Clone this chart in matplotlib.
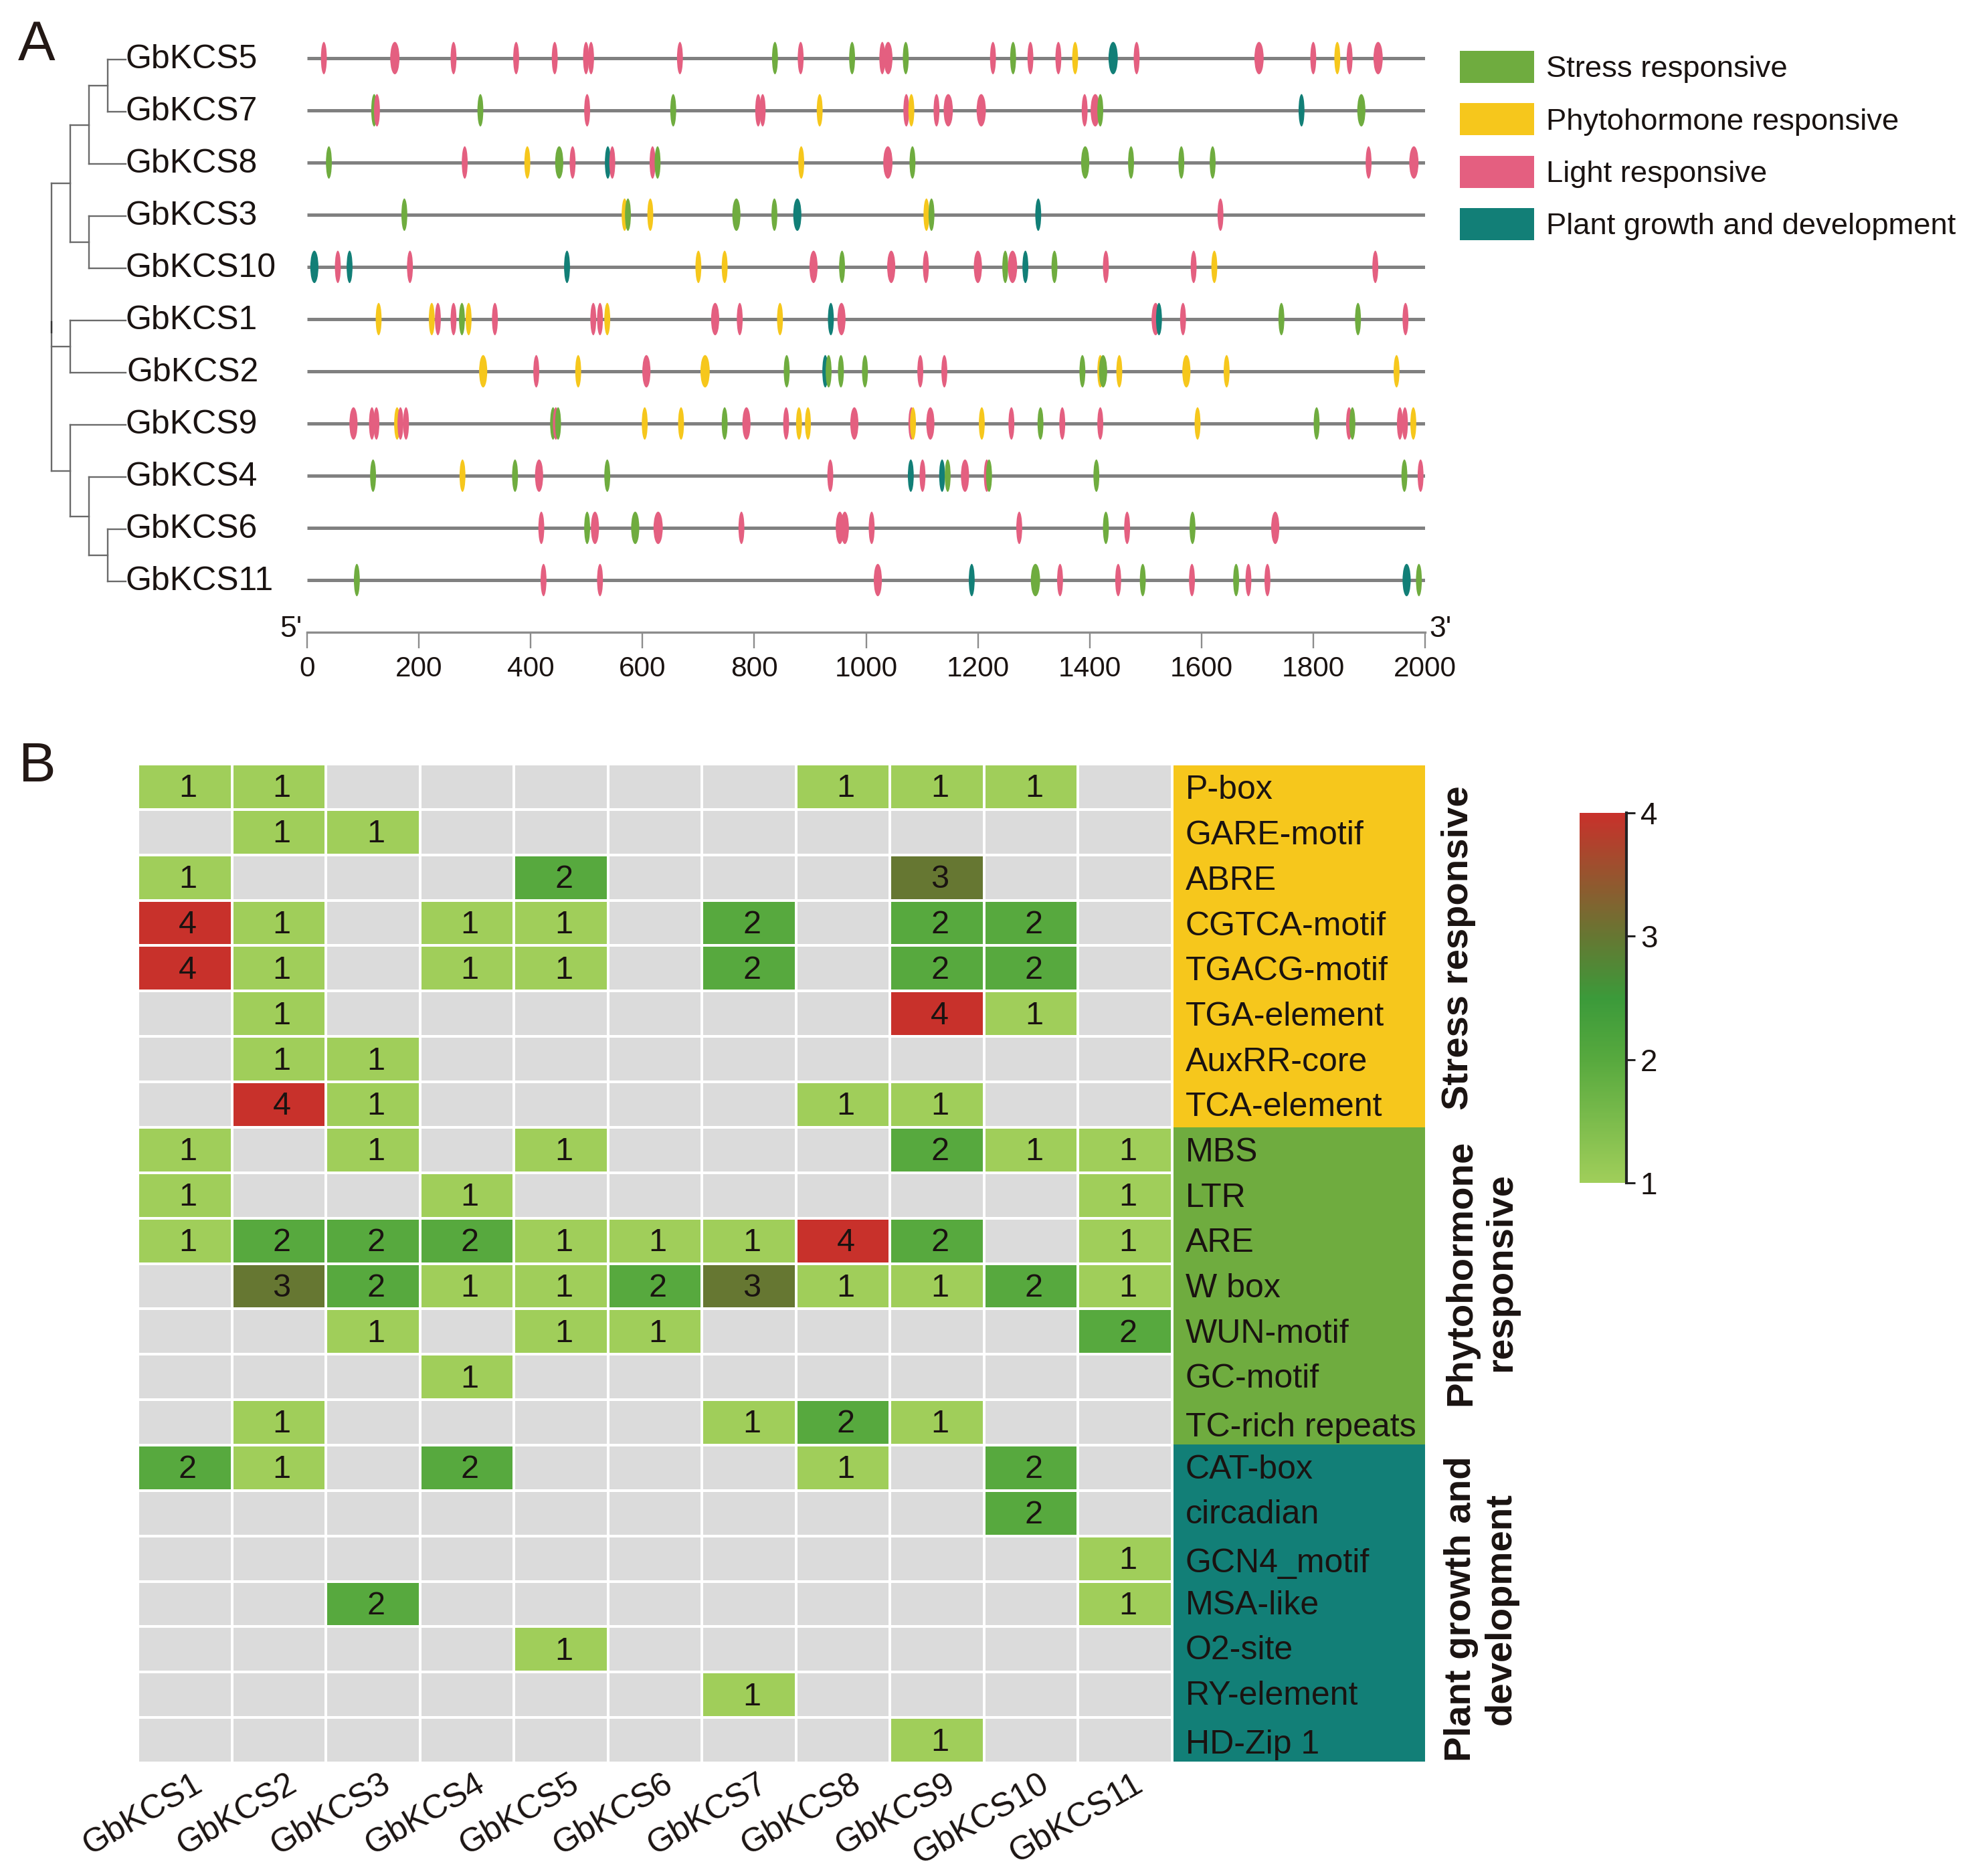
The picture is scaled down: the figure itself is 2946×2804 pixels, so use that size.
# -*- coding: utf-8 -*-
"""
GbKCS promoter cis-elements: position map (A) and count heatmap (B)
"""
import numpy as np
import matplotlib
matplotlib.use("Agg")
import matplotlib.pyplot as plt
from matplotlib.colors import LinearSegmentedColormap, Normalize
from matplotlib.patches import Ellipse, Patch
from matplotlib.cm import ScalarMappable
from matplotlib.transforms import ScaledTranslation

plt.rcParams["font.family"] = ["Liberation Sans", "DejaVu Sans"]

W, H = 2946, 2804
TXT = "#1a1311"

# panel A, top to bottom
gene_order = ["GbKCS5", "GbKCS7", "GbKCS8", "GbKCS3", "GbKCS10", "GbKCS1",
              "GbKCS2", "GbKCS9", "GbKCS4", "GbKCS6", "GbKCS11"]
tree = [[[["GbKCS5", "GbKCS7"], "GbKCS8"], ["GbKCS3", "GbKCS10"]],
        ["GbKCS1", "GbKCS2"],
        ["GbKCS9", ["GbKCS4", ["GbKCS6", "GbKCS11"]]]]
axis_ticks = [0, 200, 400, 600, 800, 1000, 1200, 1400, 1600, 1800, 2000]

# positions in bp; wide blobs are two sites next to each other
stress_sites = {
    "GbKCS5": [837, 975, 1071, 1263],
    "GbKCS7": [120, 310, 655, 1419, 1884, 1888],
    "GbKCS8": [39, 449, 453, 627, 1083, 1390, 1394, 1474, 1564, 1620],
    "GbKCS3": [174, 574, 766, 770, 836, 1117],
    "GbKCS10": [957, 1249, 1337],
    "GbKCS1": [277, 1743, 1880],
    "GbKCS2": [858, 933, 955, 998, 1387, 1422, 1426],
    "GbKCS9": [440, 449, 747, 1312, 1806, 1870],
    "GbKCS4": [118, 372, 537, 1146, 1220, 1412, 1963],
    "GbKCS6": [501, 585, 589, 1429, 1584],
    "GbKCS11": [89, 1300, 1306, 1495, 1662, 1989],
}
hormone_sites = {
    "GbKCS5": [1374, 1843],
    "GbKCS7": [917, 1081],
    "GbKCS8": [394, 884],
    "GbKCS3": [568, 614, 1108],
    "GbKCS10": [700, 747, 1623],
    "GbKCS1": [128, 223, 289, 537, 846],
    "GbKCS2": [313, 317, 485, 709, 715, 1419, 1453, 1571, 1575, 1645, 1949],
    "GbKCS9": [161, 604, 669, 880, 896, 1084, 1207, 1593, 1979],
    "GbKCS4": [278],
    "GbKCS6": [],
    "GbKCS11": [],
}
light_sites = {
    "GbKCS5": [30, 154, 160, 262, 374, 443, 499, 508, 667, 883, 1029, 1037, 1042,
               1227, 1294, 1344, 1484, 1700, 1706, 1800, 1865, 1913, 1919],
    "GbKCS7": [125, 501, 807, 815, 1072, 1126, 1144, 1150, 1203, 1209, 1391, 1407, 1413],
    "GbKCS8": [282, 475, 546, 618, 1036, 1042, 1899, 1977, 1983],
    "GbKCS3": [1634],
    "GbKCS10": [55, 184, 904, 908, 1043, 1047, 1107, 1198, 1202, 1259, 1265, 1429, 1586, 1911],
    "GbKCS1": [234, 262, 336, 512, 524, 728, 732, 774, 954, 958, 1516, 1520, 1567, 1965],
    "GbKCS2": [410, 605, 609, 1097, 1140],
    "GbKCS9": [81, 85, 116, 124, 167, 177, 445, 784, 788, 857, 977, 981, 1081, 1113, 1117,
               1260, 1351, 1419, 1864, 1955, 1964],
    "GbKCS4": [413, 417, 936, 1101, 1175, 1179, 1216, 1992],
    "GbKCS6": [419, 513, 517, 625, 631, 777, 951, 955, 960, 964, 1010, 1274, 1467, 1730, 1734],
    "GbKCS11": [423, 524, 1019, 1023, 1347, 1451, 1583, 1684, 1718],
}
growth_sites = {
    "GbKCS5": [1439, 1445],
    "GbKCS7": [1779],
    "GbKCS8": [538],
    "GbKCS3": [875, 879, 1308],
    "GbKCS10": [11, 15, 76, 465, 1285],
    "GbKCS1": [937, 1524],
    "GbKCS2": [927],
    "GbKCS9": [],
    "GbKCS4": [1080, 1136],
    "GbKCS6": [],
    "GbKCS11": [1189, 1965, 1969],
}
legend_labels = ["Stress responsive", "Phytohormone responsive", "Light responsive",
                 "Plant growth and development"]

# panel B
heat_genes = ["GbKCS1", "GbKCS2", "GbKCS3", "GbKCS4", "GbKCS5", "GbKCS6",
              "GbKCS7", "GbKCS8", "GbKCS9", "GbKCS10", "GbKCS11"]
elements = ["P-box", "GARE-motif", "ABRE", "CGTCA-motif", "TGACG-motif", "TGA-element",
            "AuxRR-core", "TCA-element", "MBS", "LTR", "ARE", "W box", "WUN-motif",
            "GC-motif", "TC-rich repeats", "CAT-box", "circadian", "GCN4_motif",
            "MSA-like", "O2-site", "RY-element", "HD-Zip 1"]
element_counts = [
    [1, 1, 0, 0, 0, 0, 0, 1, 1, 1, 0],
    [0, 1, 1, 0, 0, 0, 0, 0, 0, 0, 0],
    [1, 0, 0, 0, 2, 0, 0, 0, 3, 0, 0],
    [4, 1, 0, 1, 1, 0, 2, 0, 2, 2, 0],
    [4, 1, 0, 1, 1, 0, 2, 0, 2, 2, 0],
    [0, 1, 0, 0, 0, 0, 0, 0, 4, 1, 0],
    [0, 1, 1, 0, 0, 0, 0, 0, 0, 0, 0],
    [0, 4, 1, 0, 0, 0, 0, 1, 1, 0, 0],
    [1, 0, 1, 0, 1, 0, 0, 0, 2, 1, 1],
    [1, 0, 0, 1, 0, 0, 0, 0, 0, 0, 1],
    [1, 2, 2, 2, 1, 1, 1, 4, 2, 0, 1],
    [0, 3, 2, 1, 1, 2, 3, 1, 1, 2, 1],
    [0, 0, 1, 0, 1, 1, 0, 0, 0, 0, 2],
    [0, 0, 0, 1, 0, 0, 0, 0, 0, 0, 0],
    [0, 1, 0, 0, 0, 0, 1, 2, 1, 0, 0],
    [2, 1, 0, 2, 0, 0, 0, 1, 0, 2, 0],
    [0, 0, 0, 0, 0, 0, 0, 0, 0, 2, 0],
    [0, 0, 0, 0, 0, 0, 0, 0, 0, 0, 1],
    [0, 0, 2, 0, 0, 0, 0, 0, 0, 0, 1],
    [0, 0, 0, 0, 1, 0, 0, 0, 0, 0, 0],
    [0, 0, 0, 0, 0, 0, 1, 0, 0, 0, 0],
    [0, 0, 0, 0, 0, 0, 0, 0, 1, 0, 0],
]
group_sizes = [8, 7, 7]
group_titles = ["Stress responsive", "Phytohormone\nresponsive", "Plant growth and\ndevelopment"]

GREEN, YELLOW, PINK, TEAL = "#6FAC3F", "#F6C71C", "#E45F80", "#127F77"
heat_cmap = LinearSegmentedColormap.from_list(
    "kcs", [(0.0, "#A0CE5A"), (1 / 3, "#57A93E"), (0.5, "#3B9A3A"),
            (2 / 3, "#667732"), (1.0, "#C8312B")])
heat_cmap.set_bad("#DBDBDB")

fig = plt.figure(figsize=(W / 100, H / 100), dpi=100)


def axes_px(left, top, right, bottom):
    return fig.add_axes([left / W, 1 - bottom / H, (right - left) / W, (bottom - top) / H])


# two close sites of one colour read as one wider blob
def merge_sites(positions):
    blobs = []
    positions = sorted(positions)
    k = 0
    while k < len(positions):
        if k + 1 < len(positions) and positions[k + 1] - positions[k] < 8:
            blobs.append(((positions[k] + positions[k + 1]) / 2, positions[k + 1] - positions[k]))
            k += 2
        else:
            blobs.append((positions[k], 0))
            k += 1
    return blobs


# ---------- A: site map ----------
ax_a = axes_px(459, 40, 2130, 945)
ax_a.set_xlim(0, 2000)
ax_a.set_ylim(11, -0.6)
ax_a.patch.set_alpha(0)
for side in ["top", "left", "right"]:
    ax_a.spines[side].set_visible(False)
ax_a.spines["bottom"].set_color("#8c8c8c")
ax_a.spines["bottom"].set_linewidth(2.4)
ax_a.set_yticks([])
ax_a.set_xticks(axis_ticks)
ax_a.tick_params(axis="x", length=17, width=1.7, color="#8c8c8c", pad=8, labelsize=30.5,
                 labelcolor=TXT)

site_groups = [(stress_sites, GREEN), (hormone_sites, YELLOW), (light_sites, PINK), (growth_sites, TEAL)]
for i, gene in enumerate(gene_order):
    ax_a.plot([0, 2000], [i, i], color="#808080", lw=3.6, solid_capstyle="butt", zorder=1)
    sites = []
    for table, col in site_groups:
        sites += [(p, extra, col) for p, extra in merge_sites(table[gene])]
    for p, extra, col in sorted(sites, key=lambda s: s[0]):
        ax_a.add_patch(Ellipse((p, i), 10.5 + extra, 0.62, facecolor=col, edgecolor="none", zorder=2, clip_on=False))
    shift = 3 if gene == "GbKCS2" else 0
    ax_a.text(-325 + shift, i - 0.04, gene, fontsize=36, color=TXT, ha="left", va="center_baseline")

ax_a.text(-9, 10.88, "5'", fontsize=32, color=TXT, ha="right", va="center_baseline")
ax_a.text(2008, 10.88, "3'", fontsize=32, color=TXT, ha="left", va="center_baseline", clip_on=False)


# dendrogram, drawn left of the axis in the same bp scale
def draw_node(node, depth):
    if isinstance(node, str):
        return gene_order.index(node) + 0.03
    x = -457 + depth * 33.5
    ys = []
    for child in node:
        y = draw_node(child, depth + 1)
        end = -324 if isinstance(child, str) else x + 33.5
        ax_a.plot([x, end], [y, y], color="#6a6a6a", lw=1.7, clip_on=False, solid_capstyle="projecting")
        ys.append(y)
    ax_a.plot([x, x], [min(ys), max(ys)], color="#6a6a6a", lw=1.7, clip_on=False)
    return (min(ys) + max(ys)) / 2


root_y = draw_node(tree, 0)
ax_a.plot([-457, -457], [root_y - 0.1, root_y + 0.1], color="#333333", lw=1.7, clip_on=False)

fig.legend(handles=[Patch(facecolor=c, edgecolor="none") for c in [GREEN, YELLOW, PINK, TEAL]],
           labels=legend_labels, loc="upper left", bbox_to_anchor=(2182 / W, 1 - 76 / H),
           frameon=False, fontsize=32.7, labelcolor=TXT, borderpad=0, borderaxespad=0,
           handlelength=2.44, handleheight=1.25, handletextpad=0.4, labelspacing=0.66)

fig.text(27 / W, 1 - 90 / H, "A", fontsize=60, color="#231815", va="baseline")
fig.text(27 / W, 1 - 1168 / H, "B", fontsize=60, color="#231815", va="baseline")

# ---------- B: heatmap ----------
ax_b = axes_px(206, 1142, 1752, 2635)
counts = np.ma.masked_equal(np.array(element_counts, dtype=float), 0)
mesh = ax_b.pcolormesh(counts, cmap=heat_cmap, vmin=1, vmax=4, edgecolors="white", linewidth=2.7)
ax_b.set_ylim(len(elements), 0)
ax_b.set_yticks([])
for s in ax_b.spines.values():
    s.set_visible(False)
ax_b.set_xticks(np.arange(len(heat_genes)) + 0.5)
ax_b.set_xticklabels(heat_genes, rotation=30, ha="right", va="center", rotation_mode="anchor",
                     fontsize=36, color=TXT)
ax_b.tick_params(axis="x", length=0, pad=20)
offset = ScaledTranslation(23 / 100, 0, fig.dpi_scale_trans)
for lab in ax_b.get_xticklabels():
    lab.set_transform(lab.get_transform() + offset)
for r, row in enumerate(element_counts):
    for c, v in enumerate(row):
        if v:
            ax_b.text(c + 0.53, r + 0.47, str(v), fontsize=35, color=TXT, ha="center", va="center_baseline")

# element names on coloured strip
ax_s = axes_px(1754, 1144, 2130, 2633)
strip_colors = []
for size, col in zip(group_sizes, [YELLOW, GREEN, TEAL]):
    strip_colors += [col] * size
ax_s.barh(np.arange(len(elements)) + 0.5, [1] * len(elements), height=1.0, color=strip_colors, linewidth=0)
ax_s.set_xlim(0, 1)
ax_s.set_ylim(len(elements), 0)
ax_s.axis("off")
sits_low = ["TC-rich repeats", "GCN4_motif", "HD-Zip 1"]
for r, name in enumerate(elements):
    dy = 0.56 if name in sits_low else 0.48
    ax_s.text(0.047, r + dy, name, fontsize=36, color=TXT, ha="left", va="center_baseline")

# single line title sits on the first of the two text columns
title_x = [2180, 2214, 2214]
title_y = [1417, 1902, 2405]
for title, tx, ty in zip(group_titles, title_x, title_y):
    fig.text(tx / W, 1 - ty / H, title, rotation=90, fontsize=40.5, fontweight="bold", color=TXT,
             ha="center", va="center", ma="center", linespacing=1.2)

# colour bar
cax = axes_px(2361, 1215, 2431, 1768)
cbar = fig.colorbar(ScalarMappable(norm=Normalize(1, 4), cmap=heat_cmap), cax=cax)
cbar.outline.set_visible(False)
cbar.set_ticks([1, 2, 3, 4])
cax.tick_params(axis="y", length=9, width=2.2, color="#222222", pad=6, labelsize=33, labelcolor=TXT)
cax.plot([1, 1], [1, 4], color="#222222", lw=3, clip_on=False, transform=cax.get_yaxis_transform())

fig.savefig("out.png", dpi=100)
